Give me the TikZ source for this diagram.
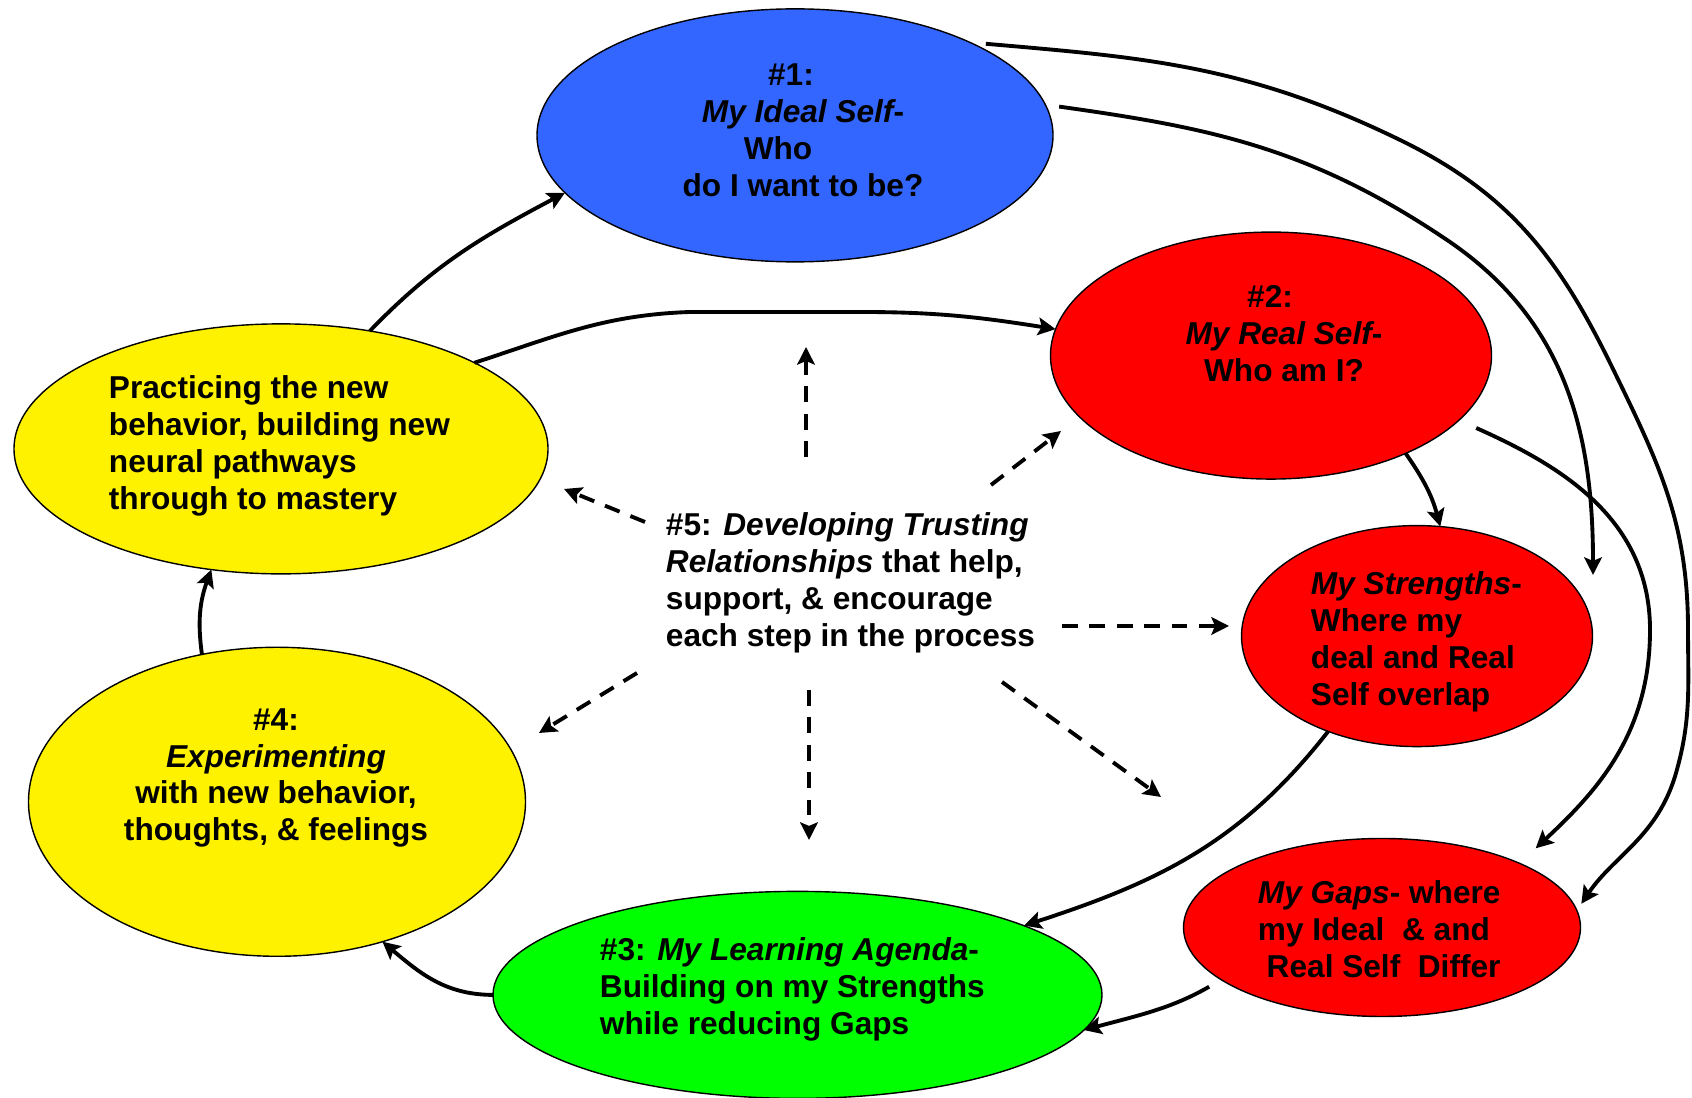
\documentclass[tikz,border=0pt]{standalone}
\usepackage{fontspec}
\setmainfont{Liberation Sans}
\usetikzlibrary{arrows.meta, shapes.geometric}
\definecolor{idealblue}{RGB}{51,102,255}
\definecolor{agendagreen}{RGB}{0,255,0}

\begin{document}
\begin{tikzpicture}
            [>={Stealth[length=5pt, width=5pt, inset=1pt]}, line width=1.1pt,
             bubble/.style={shape=ellipse, draw=black, line width=0.4pt, inner sep=0pt, outer sep=0pt},
             words/.style={inner sep=0pt, font=\bfseries\fontsize{9}{10.5}\selectfont},
             helper/.style={->, dash pattern=on 4.5pt off 3.3pt}]
            \useasboundingbox (0,0) rectangle (16.92,10.98);

            \node[bubble, fill=idealblue, minimum width=5.16cm, minimum height=2.53cm] (ideal) at (7.95, 9.626) {};
            \node[bubble, fill=red, minimum width=4.41cm, minimum height=2.47cm] (real) at (12.71, 7.424) {};
            \node[bubble, fill=red, minimum width=3.51cm, minimum height=2.21cm] (str) at (14.17, 4.619) {};
            \node[bubble, fill=red, minimum width=3.97cm, minimum height=1.78cm] (gaps) at (13.82, 1.705) {};
            \node[bubble, fill=agendagreen, minimum width=6.09cm, minimum height=2.07cm] (agenda) at (7.975, 1.031) {};
            \node[bubble, fill=yellow, minimum width=4.97cm, minimum height=3.09cm] (exper) at (2.77, 2.962) {};
            \node[bubble, fill=yellow, minimum width=5.34cm, minimum height=2.50cm] (practice) at (2.81, 6.491) {};

            \node[words, align=center] (idealtxt) at (8.03, 9.68) {\#1:\hspace{0.24cm}\mbox{}\\{\itshape My Ideal Self}-\\Who\hspace{0.5cm}\mbox{}\\do I want to be?};
            \node[words, align=center] (realtxt) at (12.84, 7.64) {\#2:\hspace{0.28cm}\mbox{}\\{\itshape My Real Self}-\\Who am I?};
            \node[words, align=left, anchor=west] (strtxt) at (13.09, 4.56) {{\itshape My Strengths}-\\Where my\\deal and Real\\Self overlap};
            \node[words, align=left, anchor=west] (gapstxt) at (12.56, 1.69) {{\itshape My Gaps}- where\\my Ideal\ \ \& and\\\hspace*{2.5pt}Real Self\ \ Differ};
            \node[words, align=left, anchor=west] (agendatxt) at (5.98, 1.09) {\#3: {\itshape My Learning Agenda}-\\Building on my Strengths\\while reducing Gaps};
            \node[words, align=center] (expertxt) at (2.76, 3.20) {\#4:\\{\itshape Experimenting}\\with new behavior,\\thoughts, \& feelings};
            \node[words, align=left, anchor=west] (practicetxt) at (1.07, 6.52) {Practicing the new\\behavior, building new\\neural pathways\\through to mastery};
            \node[words, align=left, anchor=west] (trust) at (6.64, 5.155) {\#5: {\itshape Developing Trusting}\\{\itshape Relationships} that help,\\support, \& encourage\\each step in the process};

            % the cycle
            \path [->] (practice.53) edge [out=46, in=208] (ideal.194);
            \draw [->] (practice.24) to[out=18, in=182] (6.9,7.86) -- (8.6,7.86) to[out=0, in=171] (real.173);
            \path [->] (real.-36) edge [out=-55, in=105] (str.78);
            \path [->] (str.227) edge [out=232, in=18] (agenda.17);
            \path [->] (gaps.198) edge [out=210, in=15, shorten <=0.14cm] (agenda.-7);
            \path [->] (agenda.180) edge [out=180, in=-40] (exper.-53);
            \path [->] (exper.117) edge [out=98, in=250] (practice.240);

            % long arcs on the right
            \coordinate (strtip) at (15.93, 5.23);
            \draw [->, shorten <=0.16cm, shorten >=0.08cm] (ideal.28) to[out=-5, in=154] (14.00,9.58)
                to[out=-26, in=116] (16.12,7.31) to[out=-64, in=90] (16.88,4.68)
                to[out=-90, in=74] (16.76,3.25) to[out=-106, in=56] (gaps.5);
            \draw [->, shorten <=0.14cm] (ideal.7) to[out=-8, in=146] (14.47,8.58) to[out=-34, in=90] (strtip);
            \draw [->, shorten <=0.19cm, shorten >=0.22cm] (real.-19) to[out=-24, in=90] (16.50,4.68)
                to[out=-90, in=43] (gaps.25);

            % dashed arrows round #5
            \coordinate (h1start) at (8.06, 6.41);  \coordinate (h1end) at (8.06, 7.51);
            \coordinate (h2start) at (9.91, 6.13);  \coordinate (h2end) at (10.61, 6.67);
            \coordinate (h3start) at (6.45, 5.76);  \coordinate (h3end) at (5.64, 6.09);
            \coordinate (h4start) at (10.62, 4.72); \coordinate (h4end) at (12.29, 4.72);
            \coordinate (h5start) at (6.37, 4.25);  \coordinate (h5end) at (5.39, 3.65);
            \coordinate (h6start) at (8.09, 4.08);  \coordinate (h6end) at (8.09, 2.58);
            \coordinate (h7start) at (10.02, 4.16); \coordinate (h7end) at (11.61, 3.01);
            \draw [helper] (h1start) -- (h1end);
            \draw [helper] (h2start) -- (h2end);
            \draw [helper] (h3start) -- (h3end);
            \draw [helper] (h4start) -- (h4end);
            \draw [helper] (h5start) -- (h5end);
            \draw [helper] (h6start) -- (h6end);
            \draw [helper] (h7start) -- (h7end);
\end{tikzpicture}
\end{document}
